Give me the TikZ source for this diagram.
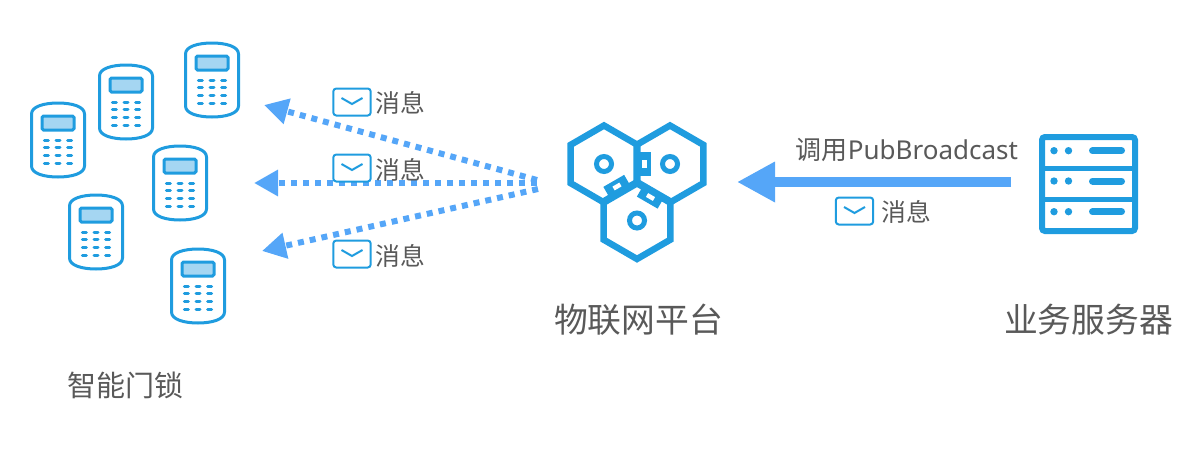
\documentclass[tikz,border=0pt]{standalone}
\usepackage{fontspec}
\setmainfont{Noto Sans}
\newfontfamily\cjk{Noto Sans CJK SC}
\usetikzlibrary{arrows.meta}
\definecolor{iconblue}{HTML}{1F9CDF}
\definecolor{screenblue}{HTML}{A5D6F2}
\definecolor{arrowblue}{HTML}{55A6F8}
\definecolor{labelgray}{HTML}{595959}
\tikzset{
  biglabel/.style={inner sep=0pt, text=labelgray, font=\cjk\fontsize{33.8}{40}\selectfont},
  msglabel/.style={inner sep=0pt, text=labelgray, font=\cjk\fontsize{24.8}{30}\selectfont},
  dotarrow/.style={arrowblue, line width=6pt, dash pattern=on 6pt off 6pt, -{Triangle[length=24pt,width=25pt]}},
  lockicon/.pic={
    \draw[iconblue, line width=3pt] (-26.5,-26) .. controls (-26.5,-33.5) and (-14,-37) .. (0,-37)
      .. controls (14,-37) and (26.5,-33.5) .. (26.5,-26) -- (26.5,26)
      .. controls (26.5,33.5) and (14,37) .. (0,37)
      .. controls (-14,37) and (-26.5,33.5) .. (-26.5,26) -- cycle;
    \draw[iconblue, fill=screenblue, line width=3pt, rounded corners=1.5pt] (-16,-24) rectangle (16,-10);
    \foreach \keyy in {0,7.7,15.6,23.3}
      \foreach \keyx in {-11.7,0,11.7}
        \draw[iconblue, line width=3pt, line cap=round] (\keyx-2,\keyy) -- (\keyx+2,\keyy);
  },
  mailicon/.pic={
    \draw[iconblue, fill=white, line width=2pt, rounded corners=3pt] (-18.7,-13.5) rectangle (18.7,13.5);
    \draw[iconblue, line width=2pt] (-10.5,-4) -- (0,2) -- (10.5,-4);
  },
  linkbox/.pic={
    \fill[iconblue] (-6.5,-12) rectangle (6.5,12);
    \fill[white] (-2.2,-4) rectangle (2.2,4);
  },
}
\begin{document}
\begin{tikzpicture}[x=1pt, y=-1pt]
\useasboundingbox (0,0) rectangle (1200,450);

\foreach \lockx/\locky in {58/140,126/102,212/80,180/183,96/232,198/286}
  \pic at (\lockx,\locky) {lockicon};

% platform
\foreach \hexx/\hexy in {604/164,670/164,637/220.5} {
  \draw[iconblue, line width=6.5pt, line join=miter] (\hexx,\hexy-38.5) -- (\hexx+33.3,\hexy-19.2) -- (\hexx+33.3,\hexy+19.2)
    -- (\hexx,\hexy+38.5) -- (\hexx-33.3,\hexy+19.2) -- (\hexx-33.3,\hexy-19.2) -- cycle;
  \draw[iconblue, line width=5pt] (\hexx,\hexy) circle (7.5);
}
\pic at (644.5,164) {linkbox};
\pic[rotate=-60] at (617,186.5) {linkbox};
\pic[rotate=60] at (650.5,197) {linkbox};

% server
\draw[iconblue, line width=6pt, rounded corners=3pt] (1042,137) rectangle (1135,231);
\draw[iconblue, line width=5pt] (1042,168) -- (1135,168) (1042,199) -- (1135,199);
\foreach \rowy in {150.7,181,211.7} {
  \fill[iconblue] (1054,\rowy) circle (3.7) (1068.5,\rowy) circle (3.7);
  \draw[iconblue, line width=7pt, line cap=round] (1092.5,\rowy) -- (1121.5,\rowy);
}

\coordinate (fanTop) at (537,180);
\coordinate (fanMid) at (537,183);
\coordinate (fanBot) at (538,189);
\coordinate (lockTop) at (264,105);
\coordinate (lockMid) at (254,183);
\coordinate (lockBot) at (262,251);
\coordinate (serverOut) at (1011,182);
\coordinate (platformIn) at (737,182);

\draw[dotarrow] (fanTop) -- (lockTop);
\draw[dotarrow] (fanMid) -- (lockMid);
\draw[dotarrow] (fanBot) -- (lockBot);
\draw[arrowblue, line width=10pt, -{Triangle[length=38pt,width=38pt]}] (serverOut) -- (platformIn);

\pic at (352,102) {mailicon};
\pic at (352,168) {mailicon};
\pic at (352,254) {mailicon};
\pic at (854.5,211) {mailicon};

\node[msglabel] (msgTop) at (400,103) {消息};
\node[msglabel] (msgMid) at (400,170) {消息};
\node[msglabel] (msgBot) at (400,256) {消息};
\node[msglabel] (msgCall) at (906.5,212) {消息};
\node[msglabel, font=\cjk\fontsize{26}{30}\selectfont] (callText) at (907,150) {调用{\fontspec{Noto Sans}PubBroadcast}};

\node[biglabel, font=\cjk\fontsize{29}{36}\selectfont] (lockName) at (125.5,385) {智能门锁};
\node[biglabel] (platformName) at (638.5,320) {物联网平台};
\node[biglabel] (serverName) at (1088.5,320) {业务服务器};
\end{tikzpicture}
\end{document}
